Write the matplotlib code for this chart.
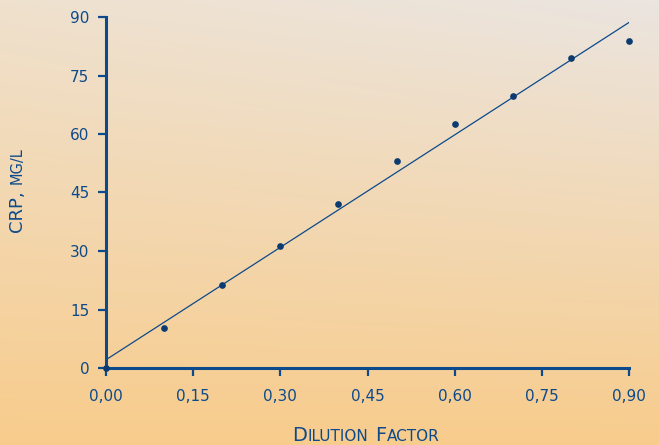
import numpy as np
import matplotlib
matplotlib.use("Agg")
import matplotlib.pyplot as plt
from matplotlib.font_manager import FontProperties
from matplotlib.transforms import IdentityTransform

# data
dilution = [0.0, 0.1, 0.2, 0.3, 0.4, 0.5, 0.6, 0.7, 0.8, 0.9]
crp = [0.0, 10.3, 21.3, 31.3, 42.0, 53.1, 62.6, 69.7, 79.5, 83.8]
xticks = [0.0, 0.15, 0.30, 0.45, 0.60, 0.75, 0.90]
xticklabels = ["0,00", "0,15", "0,30", "0,45", "0,60", "0,75", "0,90"]
yticks = [0, 15, 30, 45, 60, 75, 90]

BLUE = "#0d4a8b"
DOT = "#0b3b70"

fig = plt.figure(figsize=(6.59, 4.45), dpi=100)

# background gradient
bg = fig.add_axes([0, 0, 1, 1], zorder=-10)
top_l = np.array([239, 225, 206]) / 255
top_r = np.array([235, 229, 224]) / 255
bot = np.array([248, 204, 140]) / 255
ny, nx = 200, 200
v = np.linspace(0, 1, ny)[:, None, None]
h = np.linspace(0, 1, nx)[None, :, None]
top = top_l * (1 - h) + top_r * h
img = top * (1 - v) + bot * v
bg.imshow(img, aspect="auto", extent=[0, 1, 0, 1])
bg.axis("off")

ax = fig.add_axes([106 / 659, 77 / 445, 523 / 659, 351 / 445])
ax.patch.set_alpha(0)

slope, icpt = np.polyfit(dilution, crp, 1)
xs = np.array([0.0, 0.9])
ax.plot(xs, slope * xs + icpt, color=BLUE, lw=0.9, zorder=2)
ax.plot(dilution, crp, "o", color=DOT, ms=3.8, zorder=3, clip_on=False)

ax.set_xlim(0, 0.9)
ax.set_ylim(0, 90)
ax.set_xticks(xticks)
ax.set_xticklabels(xticklabels)
ax.set_yticks(yticks)
for s in ["top", "right"]:
    ax.spines[s].set_visible(False)
for s in ["left", "bottom"]:
    ax.spines[s].set_color(BLUE)
    ax.spines[s].set_linewidth(2.2)
ax.tick_params(axis="both", colors=BLUE, width=1.6, length=6, labelsize=11)
ax.tick_params(axis="x", pad=9)
ax.tick_params(axis="y", pad=6)


def small_caps(parts, x0, y0, vertical=False):
    # parts: list of (text, fontsize); centred on (x0, y0) in pixels, baselines aligned
    r = fig.canvas.get_renderer()
    widths = [r.get_text_width_height_descent(s, FontProperties(size=sz), False)[0]
              for s, sz in parts]
    gap = 0.8
    total = sum(widths) + gap * (len(parts) - 1)
    pos = -total / 2
    for (s, sz), w in zip(parts, widths):
        if vertical:
            fig.text(x0, y0 + pos, s, fontsize=sz, color=BLUE, rotation=90,
                     ha="left", va="baseline", rotation_mode="anchor",
                     transform=IdentityTransform())
        else:
            fig.text(x0 + pos, y0, s, fontsize=sz, color=BLUE,
                     ha="left", va="baseline", transform=IdentityTransform())
        pos += w + gap


fig.canvas.draw()
small_caps([("D", 14), ("ILUTION", 11), (" ", 11), ("F", 14), ("ACTOR", 11)], 366, 445 - 441)
small_caps([("CRP,", 13), (" ", 11), ("MG/L", 10.5)], 22, 445 - 190, vertical=True)

fig.savefig("out.png", dpi=100)
